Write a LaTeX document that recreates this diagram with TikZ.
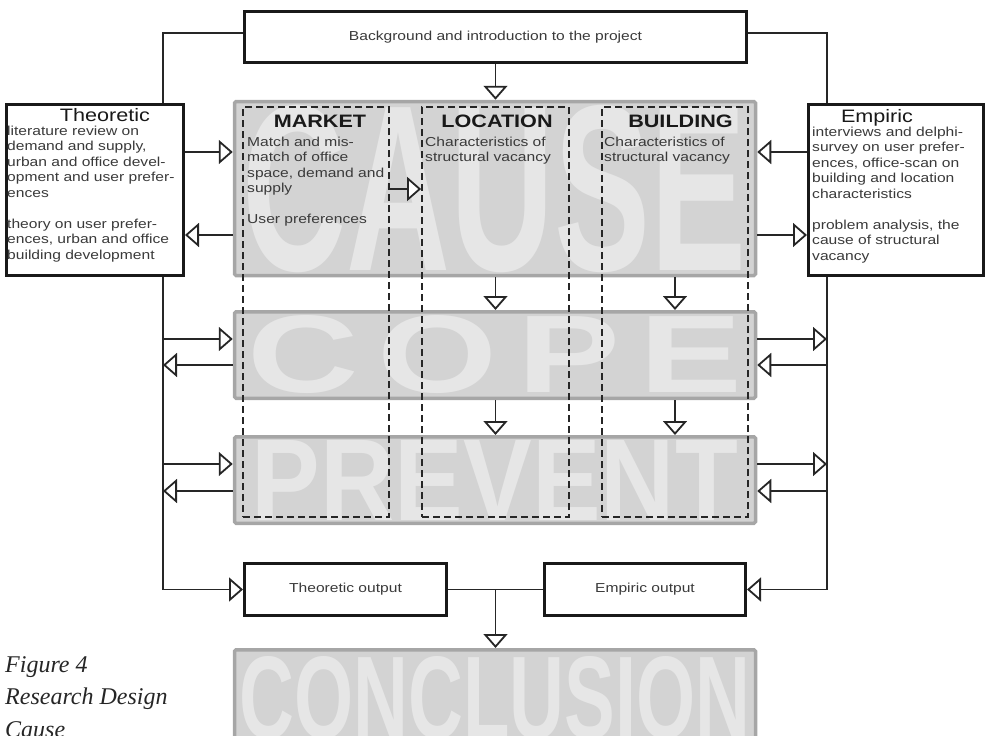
\documentclass[tikz,border=0pt]{standalone}
\usepackage{fontspec}
\usepackage{graphicx}
\setmainfont{Liberation Sans}[FakeStretch=1.2]
\newfontfamily\capfont{Liberation Serif}
\usetikzlibrary{arrows.meta,calc}
\definecolor{ink}{HTML}{262626}
\definecolor{txtgray}{HTML}{3A3A3A}
\definecolor{panelfill}{HTML}{D3D3D3}
\definecolor{panelline}{HTML}{A6A6A6}
\definecolor{lettergray}{HTML}{E6E6E6}
\newcommand{\bigword}[3]{\resizebox{#1}{#2}{\bfseries #3}}

\begin{document}
\begin{tikzpicture}[x=1pt,y=-1pt]

\tikzset{box/.style={draw=black!90, line width=3pt, fill=white, inner sep=0pt, font=\fontsize{13}{15.5}\selectfont, text=txtgray},}
\tikzset{panel/.style={draw=panelline, line width=3.5pt, fill=panelfill, rounded corners=1.5pt, inner sep=0pt, text=lettergray},}
\tikzset{column/.style={draw=ink, line width=1.8pt, dash pattern=on 7pt off 4pt, inner sep=0pt},}
\tikzset{body/.style={inner sep=0pt, align=left, anchor=north west, text=txtgray, font=\fontsize{13}{15.5}\selectfont},}
\tikzset{head/.style={inner sep=0pt, anchor=base, text=black!90, font=\fontsize{18}{20}\selectfont\bfseries},}
\tikzset{boxtitle/.style={inner sep=0pt, anchor=base, text=black!90, font=\fontsize{18}{20}\selectfont},}
\tikzset{conn/.style={draw=ink, line width=1.8pt}}
\tikzset{arr/.style={conn, -{Triangle[length=14pt, width=24pt, fill=white]}}}

\useasboundingbox (0,0) rectangle (986,736);
\clip (0,0) rectangle (986,736);

% grey stages
\node[panel, minimum width=521pt, minimum height=174pt] (cause) at (495,188.5) {\bigword{504pt}{165pt}{CAUSE}};
\node[panel, minimum width=521pt, minimum height=86.5pt] (cope) at (495,355) {\bigword{495pt}{77pt}{C\hspace{0.15em}O\hspace{0.15em}P\hspace{0.15em}E}};
\node[panel, minimum width=521pt, minimum height=86.5pt] (prevent) at (495,480) {\bigword{486pt}{80pt}{PREVENT}};
\node[panel, minimum width=521pt, minimum height=96.5pt] (conclusion) at (495,698) {\bigword{511pt}{82pt}{CONCLUSION}};

% dashed columns
\node[column, minimum width=146pt, minimum height=410pt] (market) at (316,312) {};
\node[column, minimum width=147pt, minimum height=410pt] (location) at (495.5,312) {};
\node[column, minimum width=146pt, minimum height=410pt] (building) at (675,312) {};

\node[head] (marketh) at (320,127) {MARKET};
\node[head] (locationh) at (497,127) {LOCATION};
\node[head] (buildingh) at (680.5,127) {BUILDING};
\node[body] (markettext) at (247,136.5) {Match and mis-\\match of office\\space, demand and\\supply\\[15.5pt]User preferences};
\node[body] (locationtext) at (425,136.5) {Characteristics of\\structural vacancy};
\node[body] (buildingtext) at (604,136.5) {Characteristics of\\structural vacancy};

% boxes
\node[box, minimum width=502pt, minimum height=51pt] (top) at (495.5,37) {Background and introduction to the project};

\node[box, minimum width=177pt, minimum height=171pt] (theo) at (95,190) {};
\node[boxtitle] (theotitle) at (105,121) {Theoretic};
\node[body] (theotext) at (7,125.5) {literature review on\\demand and supply,\\urban and office devel-\\opment and user prefer-\\ences\\[15.5pt]theory on user prefer-\\ences, urban and office\\building development};

\node[box, minimum width=175pt, minimum height=171pt] (emp) at (896,190) {};
\node[boxtitle] (emptitle) at (877,122) {Empiric};
\node[body] (emptext) at (812,126.5) {interviews and delphi-\\survey on user prefer-\\ences, office-scan on\\building and location\\characteristics\\[15.5pt]problem analysis, the\\cause of structural\\vacancy};

\node[box, minimum width=202pt, minimum height=52pt] (theoout) at (345.5,589.5) {Theoretic output};
\node[box, minimum width=201pt, minimum height=52pt] (empout) at (645,589.5) {Empiric output};

\node[inner sep=0pt, anchor=north west, align=left, font=\capfont\itshape\fontsize{24}{32.5}\selectfont, text=black!85] (caption) at (5,656) {Figure 4\\Research Design\\Cause};

% connectors
\draw[conn] ([yshift=4pt]top.west) -| ([xshift=68pt]theo.north);
\draw[conn] ([yshift=4pt]top.east) -| ([xshift=-69pt]emp.north);
\draw[arr] (top.south) -- (top.south |- cause.north);

\draw[arr] ([xshift=68pt]theo.south) |- (theoout.west);
\draw[arr] ([xshift=-69pt]emp.south) |- (empout.east);

\coordinate (theoin) at ([yshift=38pt]theo.east);
\coordinate (theoback) at ([yshift=-45pt]theo.east);
\coordinate (empin) at ([yshift=38pt]emp.west);
\coordinate (empback) at ([yshift=-45pt]emp.west);
\draw[arr] (theoin) -- (theoin -| cause.west);
\draw[arr] (theoback -| cause.west) -- (theoback);
\draw[arr] (empin) -- (empin -| cause.east);
\draw[arr] (empback -| cause.east) -- (empback);

\coordinate (lcopein) at (163,339);
\coordinate (lcopeout) at (163,365);
\coordinate (lpreventin) at (163,464);
\coordinate (lpreventout) at (163,491);
\coordinate (rcopein) at (827,365);
\coordinate (rcopeout) at (827,339);
\coordinate (rpreventin) at (827,491);
\coordinate (rpreventout) at (827,464);
\draw[arr] (lcopein) -- (lcopein -| cope.west);
\draw[arr] (lcopeout -| cope.west) -- (lcopeout);
\draw[arr] (lpreventin) -- (lpreventin -| prevent.west);
\draw[arr] (lpreventout -| prevent.west) -- (lpreventout);
\draw[arr] (rcopein) -- (rcopein -| cope.east);
\draw[arr] (rcopeout -| cope.east) -- (rcopeout);
\draw[arr] (rpreventin) -- (rpreventin -| prevent.east);
\draw[arr] (rpreventout -| prevent.east) -- (rpreventout);

\foreach \col in {location,building} {
  \draw[arr] (cause.south -| \col) -- (cope.north -| \col);
  \draw[arr] (cope.south -| \col) -- (prevent.north -| \col);
}

\coordinate (marketout) at ([yshift=123pt]market.east);
\draw[arr] (marketout) -- (marketout -| location.west);

\coordinate (join) at ($(theoout.east)!0.5!(empout.west)$);
\draw[conn] (theoout.east) -- (empout.west);
\draw[arr] (join) -- (join |- conclusion.north);

\end{tikzpicture}
\end{document}
